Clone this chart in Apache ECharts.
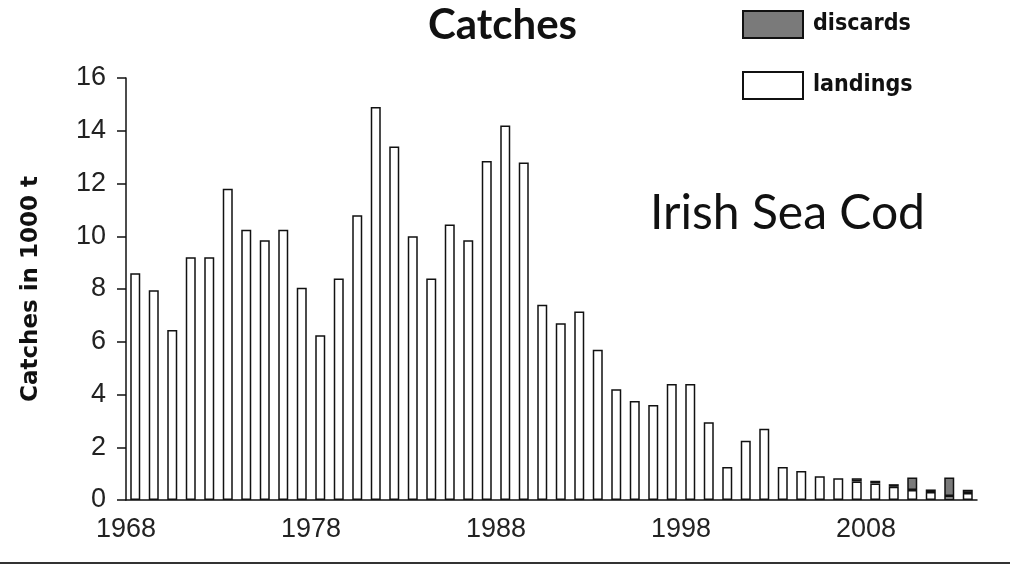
<!DOCTYPE html>
<html>
<head>
<meta charset="utf-8">
<script src="https://cdn.jsdelivr.net/npm/echarts@6/dist/echarts.min.js"></script>
<style>
  html, body { margin: 0; padding: 0; background: #fff; }
  #chart { width: 1010px; height: 566px; }
</style>
</head>
<body>
<div id="chart"></div>
<script>
// Years shown on the x axis
const years = ['1968', '1969', '1970', '1971', '1972', '1973', '1974', '1975', '1976', '1977',
  '1978', '1979', '1980', '1981', '1982', '1983', '1984', '1985', '1986', '1987',
  '1988', '1989', '1990', '1991', '1992', '1993', '1994', '1995', '1996', '1997',
  '1998', '1999', '2000', '2001', '2002', '2003', '2004', '2005', '2006', '2007',
  '2008', '2009', '2010', '2011', '2012', '2013'];

// Landings, 1000 t
const landings = [8.6, 7.95, 6.45, 9.2, 9.2, 11.8, 10.25, 9.85, 10.25, 8.05,
  6.25, 8.4, 10.8, 14.9, 13.4, 10.0, 8.4, 10.45, 9.85, 12.85,
  14.2, 12.8, 7.4, 6.7, 7.15, 5.7, 4.2, 3.75, 3.6, 4.4,
  4.4, 2.95, 1.25, 2.25, 2.7, 1.25, 1.1, 0.9, 0.82, 0.7,
  0.63, 0.5, 0.38, 0.3, 0.15, 0.27];

// Discards, 1000 t (not reported before 2007)
const discards = ['-', '-', '-', '-', '-', '-', '-', '-', '-', '-',
  '-', '-', '-', '-', '-', '-', '-', '-', '-', '-',
  '-', '-', '-', '-', '-', '-', '-', '-', '-', '-',
  '-', '-', '-', '-', '-', '-', '-', '-', '-', 0.12,
  0.1, 0.1, 0.47, 0.1, 0.7, 0.12];

const yTicks = { min: 0, max: 16, step: 2 };

const chart = echarts.init(document.getElementById('chart'));

chart.setOption({
  animation: false,
  backgroundColor: '#fff',
  title: [
    {
      text: 'Catches',
      left: 423,
      top: -1,
      textStyle: { fontFamily: 'Lato', fontWeight: 'bold', fontSize: 42, color: '#111' }
    },
    {
      text: 'Irish Sea Cod',
      left: 645,
      top: 185,
      textStyle: { fontFamily: 'Lato', fontWeight: 'normal', fontSize: 48, color: '#111' }
    }
  ],
  legend: {
    orient: 'vertical',
    left: 742,
    top: 10,
    padding: 0,
    itemWidth: 60,
    itemHeight: 27,
    itemGap: 32,
    icon: 'rect',
    data: ['discards', 'landings'],
    textStyle: {
      fontFamily: 'DejaVu Sans Condensed',
      fontWeight: 'bold',
      fontSize: 23,
      color: '#111',
      padding: [0, 0, 0, 5]
    }
  },
  grid: { left: 126, right: 33, top: 78, bottom: 66 },
  xAxis: {
    type: 'category',
    data: years,
    boundaryGap: true,
    axisLine: { lineStyle: { color: '#111', width: 1.5 } },
    axisTick: { interval: 9, length: 8, lineStyle: { color: '#111', width: 1.5 } },
    axisLabel: {
      interval: 9,
      margin: 16,
      padding: [0, 18.5, 0, 0],
      fontFamily: 'Liberation Sans',
      fontSize: 27,
      color: '#222'
    }
  },
  yAxis: {
    type: 'value',
    min: yTicks.min,
    max: yTicks.max,
    interval: yTicks.step,
    name: 'Catches in 1000 t',
    nameLocation: 'middle',
    nameGap: 83,
    nameTextStyle: { fontFamily: 'DejaVu Sans', fontWeight: 'bold', fontSize: 23, color: '#111' },
    splitLine: { show: false },
    axisLine: { show: true, lineStyle: { color: '#111', width: 1.5 } },
    axisTick: { show: true, length: 9, lineStyle: { color: '#111', width: 1.5 } },
    axisLabel: { margin: 20, fontFamily: 'Liberation Sans', fontSize: 27, color: '#222' }
  },
  series: [
    {
      name: 'landings',
      type: 'bar',
      stack: 'catch',
      data: landings,
      barWidth: 10,
      itemStyle: { color: '#fff', borderColor: '#111', borderWidth: 1.5 }
    },
    {
      name: 'discards',
      type: 'bar',
      stack: 'catch',
      data: discards,
      barWidth: 10,
      itemStyle: { color: '#7a7a7a', borderColor: '#111', borderWidth: 1.5 }
    }
  ],
  // thin rule along the bottom edge of the figure
  graphic: [
    {
      type: 'line',
      shape: { x1: 0, y1: 563, x2: 1010, y2: 563 },
      style: { stroke: '#333', lineWidth: 2 }
    }
  ]
});

window.addEventListener('resize', () => {
  chart.resize();
});
</script>
</body>
</html>
